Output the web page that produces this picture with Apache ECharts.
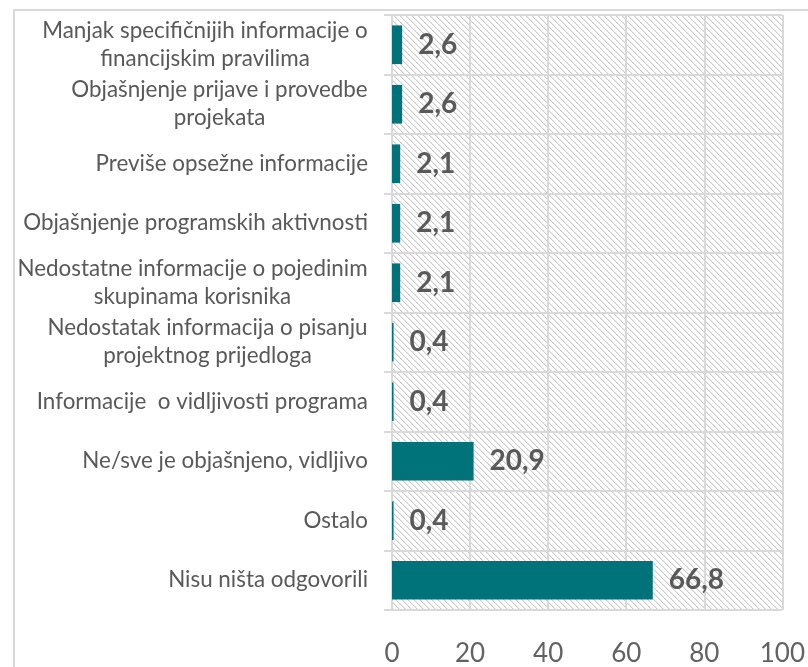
<!DOCTYPE html>
<html>
<head>
<meta charset="utf-8">
<script src="https://cdn.jsdelivr.net/npm/echarts@6/dist/echarts.min.js"></script>
<style>
  html, body { margin: 0; padding: 0; background: #fff; }
  #chart { width: 808px; height: 667px; }
</style>
</head>
<body>
<div id="chart"></div>
<script>
// podaci
var categories = [
  'Manjak specifičnijih informacije o\nfinancijskim pravilima',
  'Objašnjenje prijave i provedbe\nprojekata',
  'Previše opsežne informacije',
  'Objašnjenje programskih aktivnosti',
  'Nedostatne informacije o pojedinim\nskupinama korisnika',
  'Nedostatak informacija o pisanju\nprojektnog prijedloga',
  'Informacije  o vidljivosti programa',
  'Ne/sve je objašnjeno, vidljivo',
  'Ostalo',
  'Nisu ništa odgovorili'
];
var values = [2.6, 2.6, 2.1, 2.1, 2.1, 0.4, 0.4, 20.9, 0.4, 66.8];
var xTicks = [0, 20, 40, 60, 80, 100];

var labelFont = 'Lato';
var labelSize = 22.4;
var grey = '#595959';
var lineCol = '#d9d9d9';

// srafura u pozadini
function hatch() {
  var n = 6;
  var c = document.createElement('canvas');
  c.width = n; c.height = n;
  var ctx = c.getContext('2d');
  ctx.fillStyle = '#fff';
  ctx.fillRect(0, 0, n, n);
  for (var i = 0; i < n; i++) {
    ctx.fillStyle = '#cdcdcd';
    ctx.fillRect(i, i, 1, 1);
    ctx.fillStyle = '#ebebeb';
    ctx.fillRect((i + 1) % n, i, 1, 1);
  }
  return c;
}

// sirina najduzeg reda, da se redovi centriraju kao u Excelu
var mc = document.createElement('canvas').getContext('2d');
mc.font = labelSize + 'px ' + labelFont;
var rich = {};
categories.forEach(function (c, i) {
  var w = 0;
  c.split('\n').forEach(function (l) { w = Math.max(w, mc.measureText(l).width); });
  rich['c' + i] = {
    width: Math.ceil(w), align: 'center',
    fontFamily: labelFont, fontSize: labelSize, color: grey, lineHeight: 28
  };
});

var option = {
  animation: false,
  grid: {
    left: 392, right: 25, top: 15, bottom: 54,
    show: true,
    borderWidth: 0,
    backgroundColor: { image: hatch(), repeat: 'repeat' }
  },
  graphic: [{
    type: 'rect',
    shape: { x: 14, y: 10, width: 820, height: 700 },
    style: { fill: 'none', stroke: lineCol, lineWidth: 2 },
    silent: true
  }],
  xAxis: {
    type: 'value',
    min: xTicks[0],
    max: xTicks[xTicks.length - 1],
    interval: xTicks[1] - xTicks[0],
    axisLine: { show: false },
    axisTick: { show: false },
    splitLine: { lineStyle: { color: lineCol, width: 2 } },
    axisLabel: {
      fontFamily: labelFont, fontSize: 26, color: '#626262', margin: 31
    }
  },
  yAxis: {
    type: 'category',
    inverse: true,
    data: categories,
    axisLine: { show: true, lineStyle: { color: lineCol, width: 2 } },
    axisTick: { show: true, length: 8, lineStyle: { color: lineCol, width: 2 } },
    splitLine: { show: true, lineStyle: { color: lineCol, width: 2 } },
    axisLabel: {
      margin: 24,
      fontFamily: labelFont, fontSize: labelSize, color: grey, lineHeight: 28,
      formatter: function (v, i) {
        var lines = v.split('\n');
        if (lines.length === 1) return v;
        return lines.map(function (l) { return '{c' + i + '|' + l + '}'; }).join('\n');
      },
      rich: rich
    }
  },
  series: [{
    type: 'bar',
    data: values,
    barCategoryGap: '35%',
    itemStyle: { color: '#00737a' },
    label: {
      show: true,
      position: 'right',
      distance: 16,
      fontFamily: labelFont,
      fontSize: 28,
      fontWeight: 'bold',
      color: grey,
      formatter: function (p) { return String(p.value).replace('.', ','); }
    }
  }]
};

var chart = echarts.init(document.getElementById('chart'));
chart.setOption(option);
</script>
</body>
</html>
